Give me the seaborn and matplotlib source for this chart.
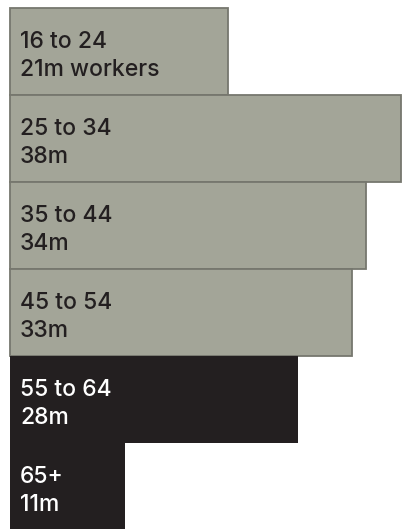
import matplotlib
matplotlib.use("Agg")
import matplotlib.pyplot as plt
import seaborn as sns
import pandas as pd

# 연령대별 근로자 수 (백만명)
ages = ["16 to 24", "25 to 34", "35 to 44", "45 to 54", "55 to 64", "65+"]
workers = [21.2, 38, 34.6, 33.2, 28, 11.2]
labels = ["21m workers", "38m", "34m", "33m", "28m", "11m"]
group = ["younger", "younger", "younger", "younger", "older", "older"]

df = pd.DataFrame({"age": ages, "workers": workers, "group": group})

grey = "#a3a598"
dark = "#231f20"

sns.set_style("white")
plt.rcParams["font.family"] = ["Inter", "DejaVu Sans"]

fig = plt.figure(figsize=(4.03, 5.29), dpi=100)
ax = fig.add_axes([0, 0, 1, 1])

sns.barplot(data=df, y="age", x="workers", hue="group", orient="h",
            palette={"younger": grey, "older": dark}, width=1.0,
            dodge=False, legend=False, ax=ax, saturation=1)

# 회색 막대는 테두리 조금 진하게
for p, g in zip(ax.patches, group):
    if g == "younger":
        p.set_edgecolor("#76776e")
        p.set_linewidth(1.3)
    else:
        p.set_edgecolor(dark)
        p.set_linewidth(0)

ax.set_xlim(-10 / 10.3, 393 / 10.3)
ax.set_ylim((529 - 8) / 87 - 0.5, -0.5 - 8 / 87)
ax.axis("off")

for i, (a, l, g) in enumerate(zip(ages, labels, group)):
    c = dark if g == "younger" else "white"
    ax.annotate(a, xy=(0, i - 0.5), xytext=(10, -40), textcoords="offset pixels",
                va="baseline", ha="left", fontsize=16.5, fontweight="medium", color=c)
    ax.annotate(l, xy=(0, i - 0.5), xytext=(10, -68), textcoords="offset pixels",
                va="baseline", ha="left", fontsize=16.5, fontweight="medium", color=c)

fig.savefig("out.png", dpi=100)
